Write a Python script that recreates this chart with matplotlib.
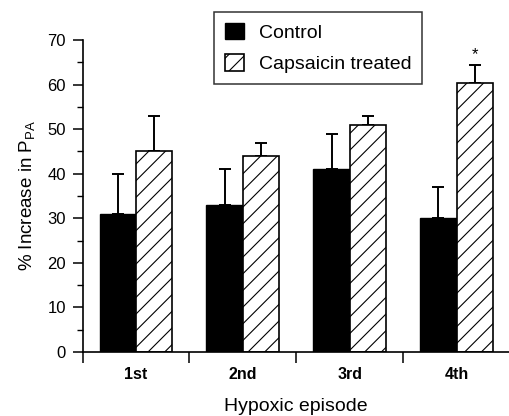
import matplotlib
matplotlib.use("Agg")
import matplotlib.pyplot as plt
import numpy as np
from matplotlib.ticker import MultipleLocator

plt.rcParams['font.family'] = ['Liberation Sans', 'DejaVu Sans']
plt.rcParams['hatch.linewidth'] = 0.8

categories = ["1st", "2nd", "3rd", "4th"]
control = [31, 33, 41, 30]
control_err = [9, 8, 8, 7]
capsaicin = [45, 44, 51, 60.3]
capsaicin_err = [8, 3, 2, 4]
sig_marks = ["", "", "", "*"]

fig = plt.figure(figsize=(5.10, 4.16), dpi=100)
ax = fig.add_axes([82.5/510, 64/416, 427.5/510, 312/416])

x = np.arange(len(categories))
w = 0.34
zeros = [0]*len(categories)
ax.bar(x - w/2, control, w, color='black', edgecolor='black', linewidth=1.0,
       label='Control', zorder=2)
ax.bar(x + w/2, capsaicin, w, color='white', edgecolor='black', linewidth=1.2,
       hatch='//', label='Capsaicin treated', zorder=2)
ax.errorbar(x - w/2, control, yerr=[zeros, control_err], fmt='none',
            ecolor='black', elinewidth=1.4, capsize=4.5, capthick=1.4, zorder=1)
ax.errorbar(x + w/2, capsaicin, yerr=[zeros, capsaicin_err], fmt='none',
            ecolor='black', elinewidth=1.4, capsize=4.5, capthick=1.4, zorder=1)

for xi, v, e, m in zip(x, capsaicin, capsaicin_err, sig_marks):
    if m:
        ax.text(xi + w/2, v + e + 0.8, m, ha='center', va='bottom', fontsize=12)

ax.set_xlim(-0.5, len(categories) - 0.5)
ax.set_ylim(0, 70)
ax.spines['top'].set_visible(False)
ax.spines['right'].set_visible(False)
ax.spines['left'].set_linewidth(1.2)
ax.spines['bottom'].set_linewidth(1.2)

ax.yaxis.set_major_locator(MultipleLocator(10))
ax.yaxis.set_minor_locator(MultipleLocator(5))
ax.tick_params(axis='y', which='major', direction='out', length=7, width=1.1,
               labelsize=12, pad=5)
ax.tick_params(axis='y', which='minor', direction='out', length=4, width=1.0)

ax.set_xticks(np.arange(len(categories) + 1) - 0.5)
ax.set_xticklabels([])
ax.set_xticks(x, minor=True)
ax.set_xticklabels(categories, minor=True, fontweight='bold')
ax.tick_params(axis='x', which='major', direction='out', length=8, width=1.1)
ax.tick_params(axis='x', which='minor', length=0, labelsize=11.5, pad=11)

ax.set_ylabel(r'% Increase in P$_{\mathregular{PA}}$', fontsize=13.5)
ax.yaxis.set_label_coords(-0.105, 0.5)
ax.set_xlabel('Hypoxic episode', fontsize=14)
ax.xaxis.set_label_coords(0.5, -0.148)

leg = ax.legend(loc='upper left', bbox_to_anchor=(214/510, 1 - 12/416),
                bbox_transform=fig.transFigure, fontsize=14, frameon=True,
                fancybox=False, edgecolor='black', handlelength=1.0,
                handleheight=0.95, borderpad=0.55, labelspacing=0.65,
                handletextpad=0.75, borderaxespad=0)
leg.get_frame().set_linewidth(1.1)

fig.savefig('out.png', dpi=100)
